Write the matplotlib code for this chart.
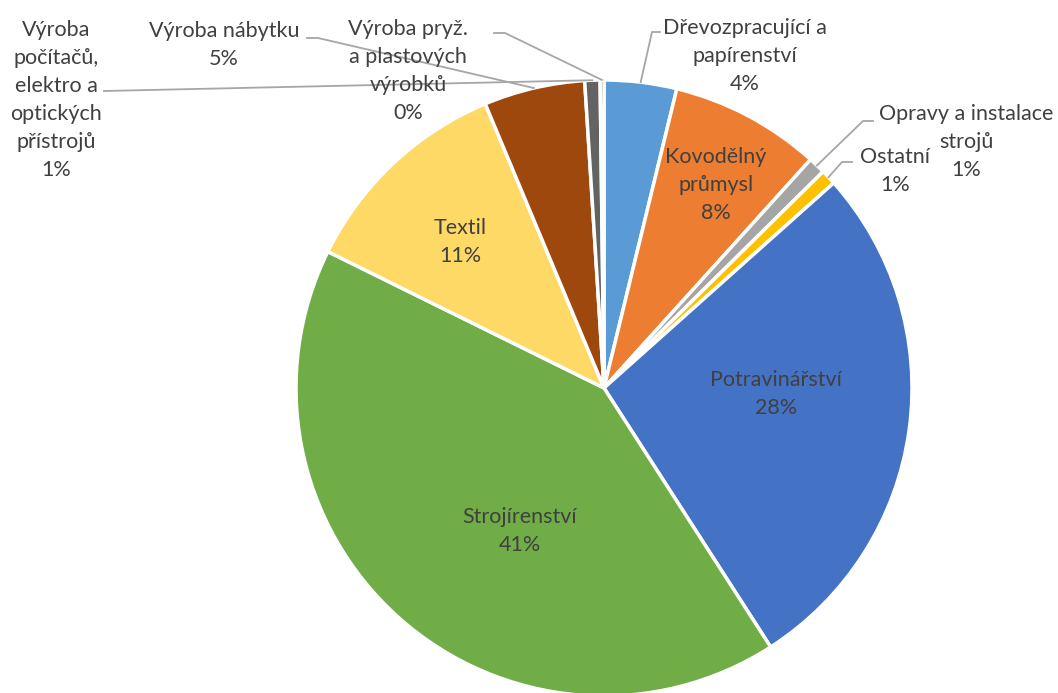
import numpy as np
import matplotlib
matplotlib.use("Agg")
import matplotlib.pyplot as plt

# share of each branch, clockwise from 12 o'clock
branches = ["Dřevozpracující a\npapírenství", "Kovodělný\nprůmysl", "Opravy a instalace\nstrojů",
            "Ostatní", "Potravinářství", "Strojírenství", "Textil", "Výroba nábytku",
            "Výroba\npočítačů,\nelektro a\noptických\npřístrojů", "Výroba pryž.\na plastových\nvýrobků"]
shares = [3.8, 7.9, 0.9, 0.8, 27.5, 41.4, 11.4, 5.3, 0.8, 0.2]
colors = ["#5B9BD5", "#ED7D31", "#A5A5A5", "#FFC000", "#4472C4",
          "#70AD47", "#FFD966", "#9E480E", "#636363", "#997300"]

plt.rcParams['font.family'] = ['Lato', 'DejaVu Sans']
txt_color = "#404040"
line_color = "#A6A6A6"

W, H = 1058, 693
fig = plt.figure(figsize=(W / 100, H / 100), dpi=100)
ax = fig.add_axes([0, 0, 1, 1])

cx, cy, r = 604, 388, 308
# y axis is flipped below (pixel coords), so counterclock here draws clockwise on screen
wedges, _ = ax.pie(shares, colors=colors, startangle=-90, counterclock=True,
                   center=(cx, cy), radius=r,
                   wedgeprops=dict(edgecolor="white", linewidth=2.5))
ax.set_xlim(0, W)
ax.set_ylim(H, 0)
ax.set_aspect("equal")
ax.axis("off")

labels = [f"{b}\n{round(s):.0f}%" for b, s in zip(branches, shares)]

# label centre positions (pixels)
label_pos = [(745, 56), (716, 185), (966, 142), (895, 171), (776, 394),
             (520, 531), (460, 242), (224, 45), (56, 100), (408, 71)]
# leader lines: (start of horizontal tick, corner) for outside labels
leaders = {0: [(660, 32), (652, 32)],
           2: [(873, 121), (863, 121)],
           3: [(852, 162), (842, 162)],
           7: [(307, 38), (318, 38)],
           8: [(104, 91)],
           9: [(494, 33), (505, 33)]}

for i, (w, lab) in enumerate(zip(wedges, labels)):
    x, y = label_pos[i]
    ax.text(x, y, lab, ha="center", va="center", fontsize=15.5, color=txt_color,
            linespacing=1.5)
    if i in leaders:
        ang = np.deg2rad((w.theta1 + w.theta2) / 2)
        ex = cx + r * np.cos(ang)
        ey = cy + r * np.sin(ang)
        pts = leaders[i] + [(ex, ey)]
        ax.plot([p[0] for p in pts], [p[1] for p in pts], color=line_color, lw=1.3)

fig.savefig("out.png", dpi=100, facecolor="white")
